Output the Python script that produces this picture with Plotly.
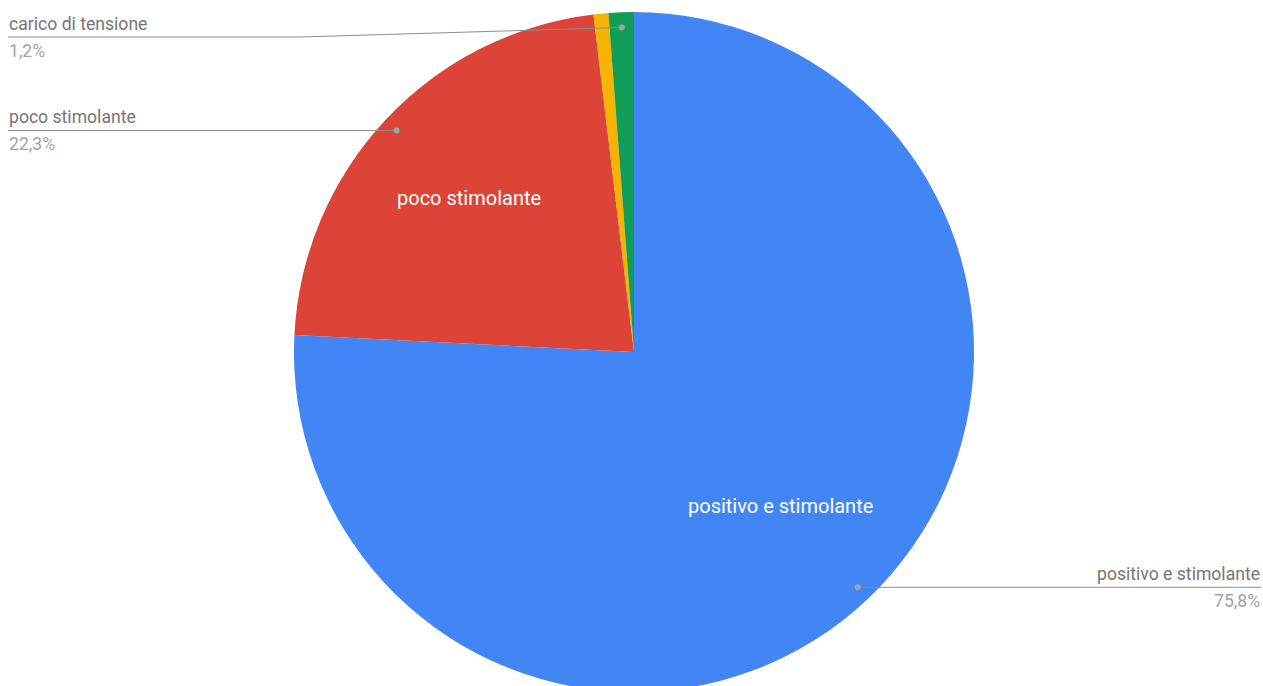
import math
import plotly.graph_objects as go

# ---- data ----
labels = ["positivo e stimolante", "poco stimolante", "", "carico di tensione"]
values = [75.8, 22.3, 0.7, 1.2]
pct_labels = ["75,8%", "22,3%", "", "1,2%"]
colors = ["#4285F4", "#DB4437", "#F4B400", "#0F9D58"]

# ---- layout constants (pixels) ----
W, H = 1263, 700          # figure slightly taller than the 686 px window; bottom is clipped like the reference
CX, CY, R = 634, 352, 340
DOM_X = [(CX - R) / W, (CX + R) / W]
DOM_Y = [(H - (CY + R)) / H, (H - (CY - R)) / H]

def px(x, y):
    return x / W, 1 - y / H

fig = go.Figure(go.Pie(
    labels=[l if l else "altro" for l in labels],
    values=values,
    marker=dict(colors=colors, line=dict(width=0)),
    sort=False,
    direction="clockwise",
    rotation=0,
    textinfo="none",
    hoverinfo="label+percent",
    showlegend=False,
    domain=dict(x=DOM_X, y=DOM_Y),
))

total = sum(values)
cum = 0.0
mids = []
for v in values:
    mids.append((cum + v / 2) / total * 2 * math.pi)
    cum += v

def polar(theta, f):
    return CX + R * f * math.sin(theta), CY - R * f * math.cos(theta)

annotations = []
shapes = []
inside = {0: 0.625, 1: 0.665}
for i, f in inside.items():
    x, y = polar(mids[i], f)
    ax, ay = px(x, y)
    annotations.append(dict(x=ax, y=ay, xref="paper", yref="paper", text=labels[i],
                            showarrow=False, font=dict(family="Roboto", size=20, color="white"),
                            xanchor="center", yanchor="middle"))

GREY_LINE = "#8c8c8c"
LABEL_C = "#757575"
PCT_C = "#a3a3a3"
# outside labels: (slice index, side, line y override)
outside = [(0, "right", None), (1, "left", None), (3, "left", 37)]
for i, side, ly in outside:
    dx, dy = polar(mids[i], 0.955)
    line_y = dy if ly is None else ly
    if side == "left":
        tx = 8
        if ly is None:
            pts = [(tx, line_y), (dx, dy)]
        else:
            pts = [(tx, line_y), (300, line_y), (dx, dy)]
        anchor = "left"
    else:
        tx = 1261
        pts = [(dx, dy), (tx, line_y)]
        anchor = "right"
    out = []
    for k, (x, y) in enumerate(pts):
        px_, py_ = px(x, y)
        out.append(f"{'M' if k == 0 else 'L'} {px_:.5f},{py_:.5f}")
    shapes.append(dict(type="path", path=" ".join(out), xref="paper", yref="paper",
                       line=dict(color=GREY_LINE, width=1)))
    cx0, cy0 = px(dx - 3, dy - 3)
    cx1, cy1 = px(dx + 3, dy + 3)
    shapes.append(dict(type="circle", xref="paper", yref="paper", x0=cx0, y0=cy1, x1=cx1, y1=cy0,
                       fillcolor=PCT_C, line=dict(width=0)))
    ax, ay = px(tx - 1 if side == "left" else tx + 1, line_y - 13)
    annotations.append(dict(x=ax, y=ay, xref="paper", yref="paper", text=labels[i],
                            showarrow=False, font=dict(family="Roboto", size=17.6, color=LABEL_C),
                            xanchor=anchor, yanchor="middle"))
    ax, ay = px(tx - 1 if side == "left" else tx + 1, line_y + 14)
    annotations.append(dict(x=ax, y=ay, xref="paper", yref="paper", text=pct_labels[i],
                            showarrow=False, font=dict(family="Roboto", size=17.6, color=PCT_C),
                            xanchor=anchor, yanchor="middle"))

fig.update_layout(
    width=W, height=H,
    margin=dict(l=0, r=0, t=0, b=0),
    paper_bgcolor="white",
    plot_bgcolor="white",
    annotations=annotations,
    shapes=shapes,
    font=dict(family="Roboto"),
)

fig.write_html("out.html",
               config={"displayModeBar": False},
               post_script="document.body.style.margin='0';document.body.style.padding='0';document.body.style.overflow='hidden';")
